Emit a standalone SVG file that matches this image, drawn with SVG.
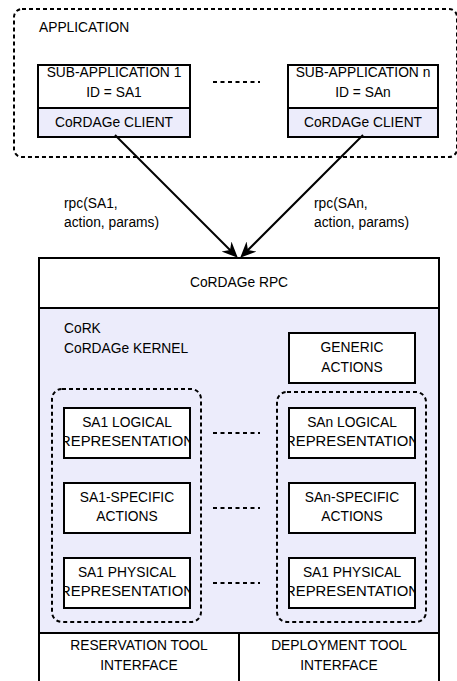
<svg xmlns="http://www.w3.org/2000/svg" width="457" height="681" viewBox="0 0 457 681">
<style>
text{font-family:"Liberation Sans",Arial,sans-serif;font-size:13.8px;fill:#000;text-anchor:middle}
.l{text-anchor:start}
.box{fill:#fff;stroke:#000;stroke-width:2}
.lav{fill:#ececfb;stroke:#000;stroke-width:2}
.dash{fill:none;stroke:#000;stroke-width:2;stroke-dasharray:4 3}
.sep{fill:none;stroke:#000;stroke-width:2;stroke-dasharray:4 3.5}
.conn{stroke:#000;stroke-width:2;fill:none}
</style>
<defs>
<marker id="ah" markerUnits="userSpaceOnUse" markerWidth="18" markerHeight="16" refX="12" refY="7" orient="auto">
<path d="M0,0 L16,7 L0,14 L5,7 Z" fill="#000"/>
</marker>
<clipPath id="c1"><rect x="64" y="408" width="126" height="50"/></clipPath>
<clipPath id="c2"><rect x="289" y="408" width="126" height="50"/></clipPath>
<clipPath id="c3"><rect x="64" y="558" width="126" height="50"/></clipPath>
<clipPath id="c4"><rect x="289" y="558" width="126" height="50"/></clipPath>
</defs>
<rect x="0" y="0" width="457" height="681" fill="#fff"/>

<g id="application">
<rect class="dash" x="14" y="9" width="443" height="148" rx="8"/>
<text class="l" x="39" y="32">APPLICATION</text>
</g>

<g id="subapp1">
<rect class="box" x="38" y="65" width="152" height="43"/>
<rect class="lav" x="38" y="108" width="152" height="29"/>
<text x="114" y="77">SUB-APPLICATION 1</text>
<text x="114" y="97">ID = SA1</text>
<text x="114" y="127">CoRDAGe CLIENT</text>
</g>

<g id="subappn">
<rect class="box" x="288" y="65" width="150" height="43"/>
<rect class="lav" x="288" y="108" width="150" height="29"/>
<text x="363" y="77">SUB-APPLICATION n</text>
<text x="363" y="97">ID = SAn</text>
<text x="363" y="127">CoRDAGe CLIENT</text>
</g>

<g id="cordage">
<rect class="box" x="39" y="258" width="400" height="50"/>
<text x="239" y="287">CoRDAGe RPC</text>
<rect class="lav" x="39" y="308" width="400" height="325"/>
<text class="l" x="64" y="333">CoRK</text>
<text class="l" x="64" y="353">CoRDAGe KERNEL</text>
<rect class="box" x="39" y="633" width="200" height="60"/>
<rect class="box" x="239" y="633" width="200" height="60"/>
<text x="139" y="650">RESERVATION TOOL</text>
<text x="139" y="670">INTERFACE</text>
<text x="339" y="650">DEPLOYMENT TOOL</text>
<text x="339" y="670">INTERFACE</text>
</g>

<g id="generic">
<rect class="box" x="289" y="333" width="126" height="50"/>
<text x="352" y="352">GENERIC</text>
<text x="352" y="372">ACTIONS</text>
</g>

<g id="group1">
<rect class="dash" x="52" y="389" width="149" height="233" rx="10"/>
</g>
<g id="groupn">
<rect class="dash" x="277" y="392" width="149" height="230" rx="10"/>
</g>

<g id="sa1logical">
<rect class="box" x="64" y="408" width="126" height="50"/>
<g clip-path="url(#c1)"><text x="127" y="427">SA1 LOGICAL</text><text x="127" y="446" textLength="134" lengthAdjust="spacingAndGlyphs">REPRESENTATION</text></g>
</g>
<g id="sanlogical">
<rect class="box" x="289" y="408" width="126" height="50"/>
<g clip-path="url(#c2)"><text x="352" y="427">SAn LOGICAL</text><text x="352" y="446" textLength="134" lengthAdjust="spacingAndGlyphs">REPRESENTATION</text></g>
</g>
<g id="sa1specific">
<rect class="box" x="64" y="483" width="126" height="50"/>
<text x="127" y="502">SA1-SPECIFIC</text><text x="127" y="521">ACTIONS</text>
</g>
<g id="sanspecific">
<rect class="box" x="289" y="483" width="126" height="50"/>
<text x="352" y="502">SAn-SPECIFIC</text><text x="352" y="521">ACTIONS</text>
</g>
<g id="sa1physical">
<rect class="box" x="64" y="558" width="126" height="50"/>
<g clip-path="url(#c3)"><text x="127" y="577">SA1 PHYSICAL</text><text x="127" y="596" textLength="134" lengthAdjust="spacingAndGlyphs">REPRESENTATION</text></g>
</g>
<g id="sanphysical">
<rect class="box" x="289" y="558" width="126" height="50"/>
<g clip-path="url(#c4)"><text x="352" y="577">SA1 PHYSICAL</text><text x="352" y="596" textLength="134" lengthAdjust="spacingAndGlyphs">REPRESENTATION</text></g>
</g>

<g id="connectors">
<line class="conn" x1="115" y1="135" x2="235" y2="255" marker-end="url(#ah)"/>
<line class="conn" x1="363" y1="135" x2="243" y2="255" marker-end="url(#ah)"/>
<text class="l" x="64" y="208">rpc(SA1,</text>
<text class="l" x="64" y="227">action, params)</text>
<text class="l" x="314" y="208">rpc(SAn,</text>
<text class="l" x="314" y="227">action, params)</text>
<line class="sep" x1="213" y1="82" x2="260" y2="82"/>
<line class="sep" x1="213" y1="433" x2="260" y2="433"/>
<line class="sep" x1="213" y1="508" x2="260" y2="508"/>
<line class="sep" x1="213" y1="583" x2="260" y2="583"/>
</g>
</svg>
